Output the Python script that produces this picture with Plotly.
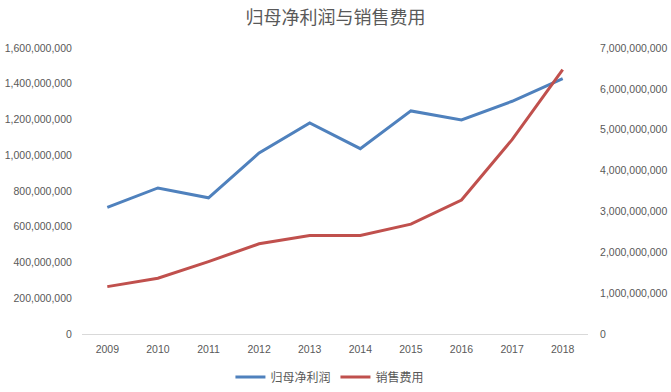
import plotly.graph_objects as go

years = ["2009", "2010", "2011", "2012", "2013", "2014", "2015", "2016", "2017", "2018"]
net_profit = [708e6, 817e6, 762e6, 1013e6, 1181e6, 1037e6, 1248e6, 1198e6, 1302e6, 1429e6]
selling_exp = [1.160e9, 1.366e9, 1.773e9, 2.207e9, 2.410e9, 2.410e9, 2.690e9, 3.278e9, 4.757e9, 6.473e9]

left_ticks = [0, 2e8, 4e8, 6e8, 8e8, 1e9, 1.2e9, 1.4e9, 1.6e9]
right_ticks = [0, 1e9, 2e9, 3e9, 4e9, 5e9, 6e9, 7e9]

grey = "#595959"
font_num = "'Liberation Sans', Arial, sans-serif"
font_cjk = "'Noto Sans CJK SC', sans-serif"

fig = go.Figure()
fig.add_trace(go.Scatter(x=years, y=net_profit, mode="lines", name="归母净利润",
                         line=dict(color="#4F81BD", width=3), yaxis="y"))
fig.add_trace(go.Scatter(x=years, y=selling_exp, mode="lines", name="销售费用",
                         line=dict(color="#C0504D", width=3), yaxis="y2"))

fig.update_layout(
    width=671, height=392,
    margin=dict(l=82, r=83, t=48, b=58, autoexpand=False),
    paper_bgcolor="white", plot_bgcolor="white",
    title=dict(text="归母净利润与销售费用", x=0.5, xanchor="center", y=0.955, yanchor="middle",
               font=dict(family=font_cjk, size=18, color=grey)),
    showlegend=True,
    legend=dict(orientation="h", x=0.49, xanchor="center", y=-0.15, yanchor="middle",
                font=dict(family=font_cjk, size=12, color=grey), itemwidth=30,
                tracegroupgap=0),
    xaxis=dict(type="category", range=[-0.5, 9.5], showgrid=False, showline=True,
               linecolor="#D9D9D9", linewidth=1, ticks="outside", ticklen=5,
               tickcolor="rgba(0,0,0,0)", zeroline=False,
               tickfont=dict(family=font_num, size=10.5, color=grey)),
    yaxis=dict(range=[0, 1.6e9], tickvals=left_ticks, tickformat=",d", showgrid=False,
               zeroline=False, showline=False, ticks="outside", ticklen=7, tickcolor="rgba(0,0,0,0)",
               tickfont=dict(family=font_num, size=10.5, color=grey)),
    yaxis2=dict(range=[0, 7e9], tickvals=right_ticks, tickformat=",d", overlaying="y",
                side="right", showgrid=False, zeroline=False, showline=False,
                ticks="outside", ticklen=9, tickcolor="rgba(0,0,0,0)",
                tickfont=dict(family=font_num, size=10.5, color=grey)),
)

fig.write_html("out.html", config={"displayModeBar": False},
               post_script="document.body.style.margin='0';document.body.style.padding='0';")
